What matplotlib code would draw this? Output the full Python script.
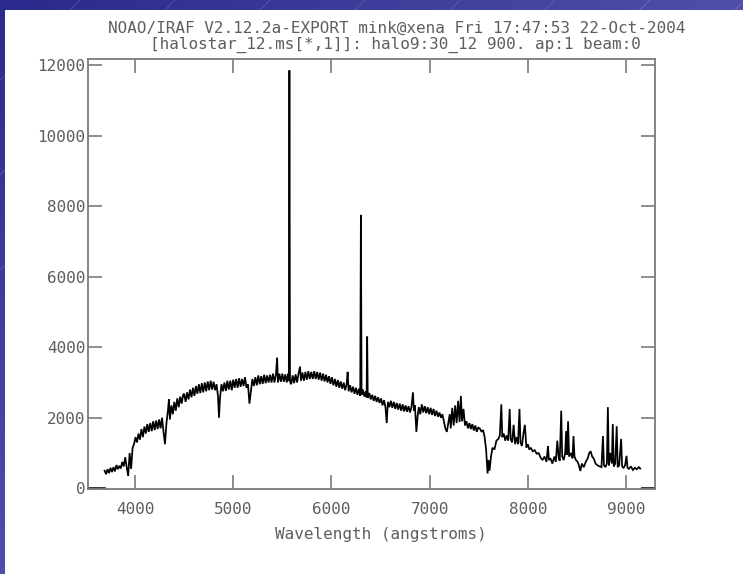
import numpy as np
import matplotlib
matplotlib.use("Agg")
import matplotlib.pyplot as plt
from matplotlib.patches import Rectangle

# ---------------- data ----------------
title_line1 = "NOAO/IRAF V2.12.2a-EXPORT mink@xena Fri 17:47:53 22-Oct-2004"
title_line2 = "[halostar_12.ms[*,1]]: halo9:30_12 900. ap:1 beam:0"
x_label = "Wavelength (angstroms)"
x_ticks = [4000, 5000, 6000, 7000, 8000, 9000]
y_ticks = [0, 2000, 4000, 6000, 8000, 10000, 12000]

# zero-valued ends of the spectrum (outside the extracted range)
edge_blue_wl = [3530, 3680]
edge_blue_fx = [0, 0]
edge_red_wl = [9160, 9290]
edge_red_fx = [0, 0]

wl_1 = [3690, 3705, 3720, 3735, 3750, 3765, 3780, 3795, 3810, 3825, 3840, 3855, 3870,
        3885, 3900, 3915, 3930, 3945, 3960, 3975, 3990, 4005, 4020, 4035, 4050, 4065,
        4080, 4095, 4110, 4125, 4140, 4155, 4170, 4185, 4200, 4215, 4230, 4245, 4260,
        4275, 4290, 4305, 4320, 4335, 4345, 4355, 4370, 4385, 4400, 4415, 4430, 4445,
        4460, 4475, 4490]
fx_1 = [500, 400, 540, 430, 580, 460, 600, 480, 660, 540, 640, 560, 750,
        620, 880, 600, 350, 1000, 550, 1150, 1250, 1450, 1300, 1550, 1380, 1680,
        1450, 1750, 1550, 1820, 1600, 1850, 1620, 1900, 1650, 1920, 1680, 1950, 1700,
        2000, 1600, 1250, 1850, 2200, 2520, 1950, 2350, 2100, 2450, 2200, 2550, 2300,
        2600, 2400, 2650]

wl_2 = [4500, 4515, 4530, 4545, 4560, 4575, 4590, 4605, 4620, 4635, 4650, 4665, 4680,
        4695, 4710, 4725, 4740, 4755, 4770, 4785, 4800, 4815, 4830, 4845, 4855, 4865,
        4880, 4895, 4910, 4925, 4940, 4955, 4970, 4985, 5000, 5015, 5030, 5045, 5060,
        5075, 5090, 5105, 5120, 5135, 5150, 5165, 5180, 5195, 5210, 5225, 5240, 5255,
        5270, 5285, 5300, 5315, 5330, 5345, 5360, 5375, 5390, 5405, 5420, 5435, 5447,
        5455, 5470, 5485]
fx_2 = [2680, 2450, 2720, 2520, 2800, 2580, 2850, 2620, 2900, 2680, 2950, 2700, 2980,
        2720, 3000, 2750, 3030, 2780, 3050, 2800, 3020, 2780, 2950, 2600, 2000, 2550,
        2950, 2750, 3000, 2760, 3050, 2800, 3050, 2780, 3080, 2850, 3100, 2850, 3120,
        2880, 3100, 2900, 3150, 2850, 2950, 2400, 2750, 3100, 2900, 3150, 2920, 3200,
        2950, 3180, 2960, 3220, 2980, 3200, 3000, 3220, 3000, 3250, 3000, 3230, 3700,
        3000, 3250, 3020]

wl_3 = [5500, 5515, 5530, 5545, 5558, 5566, 5572, 5578, 5590, 5605, 5620, 5635, 5650,
        5665, 5680, 5690, 5705, 5720, 5735, 5750, 5765, 5780, 5795, 5810, 5825, 5840,
        5855, 5870, 5885, 5900, 5915, 5930, 5945, 5960, 5975, 5990, 6005, 6020, 6035,
        6050, 6065, 6080, 6095, 6110, 6125, 6140, 6155, 6165, 6175, 6190, 6205, 6220,
        6235, 6250, 6265, 6280, 6293, 6300, 6307, 6320, 6335, 6350, 6358, 6364, 6370,
        6385, 6400, 6415, 6430, 6445, 6460, 6475, 6490]
fx_3 = [3250, 3020, 3230, 3000, 3250, 3050, 11850, 3020, 2950, 3200, 2980, 3230, 3000,
        3250, 3450, 3050, 3280, 3050, 3300, 3080, 3320, 3100, 3300, 3100, 3320, 3100,
        3300, 3080, 3280, 3050, 3250, 3030, 3220, 3000, 3180, 2960, 3150, 2920, 3100,
        2880, 3070, 2850, 3030, 2820, 3000, 2780, 2950, 3300, 2750, 2920, 2720, 2880,
        2680, 2850, 2650, 2820, 2620, 7750, 2650, 2800, 2600, 2750, 2580, 4300, 2560,
        2700, 2520, 2650, 2480, 2620, 2450, 2580, 2420]

wl_4 = [6505, 6520, 6535, 6550, 6563, 6575, 6590, 6605, 6620, 6635, 6650, 6665, 6680,
        6695, 6710, 6725, 6740, 6755, 6770, 6785, 6800, 6815, 6830, 6840, 6850, 6865,
        6878, 6890, 6905, 6920, 6935, 6950, 6965, 6980, 6995, 7010, 7025, 7040, 7055,
        7070, 7085, 7100, 7115, 7130, 7145, 7160, 7175, 7190, 7205, 7215, 7230, 7245,
        7260, 7275, 7290, 7305, 7318, 7330, 7345, 7360, 7375, 7390, 7405, 7420, 7435,
        7450, 7465, 7480, 7495]
fx_4 = [2550, 2350, 2500, 2300, 1850, 2450, 2300, 2480, 2280, 2450, 2250, 2420, 2230,
        2400, 2200, 2380, 2180, 2350, 2170, 2330, 2150, 2300, 2720, 2200, 2350, 1600,
        2050, 2300, 2100, 2380, 2150, 2330, 2130, 2300, 2100, 2280, 2080, 2250, 2050,
        2200, 2030, 2150, 2000, 2100, 1900, 1700, 1600, 1850, 2100, 1700, 2280, 1780,
        2350, 1850, 2480, 1880, 2620, 1900, 2250, 1780, 1900, 1700, 1850, 1680, 1820,
        1640, 1780, 1600, 1720]

wl_5 = [7510, 7530, 7545, 7560, 7575, 7590, 7600, 7610, 7625, 7640, 7660, 7680, 7700,
        7715, 7730, 7740, 7755, 7770, 7785, 7800, 7815, 7825, 7840, 7855, 7870, 7885,
        7900, 7915, 7925, 7940, 7955, 7970, 7985, 8000, 8015, 8030, 8050, 8070, 8090,
        8110, 8130, 8150, 8170, 8190, 8205, 8215, 8230, 8250, 8270, 8285, 8300, 8315,
        8325, 8340, 8350, 8365, 8380, 8390, 8400, 8410, 8420, 8440, 8455, 8465, 8475, 8490]
fx_5 = [1700, 1600, 1650, 1450, 1100, 420, 800, 500, 900, 1150, 1100, 1350, 1400,
        1500, 2380, 1450, 1550, 1350, 1500, 1350, 2250, 1400, 1300, 1800, 1250, 1450,
        1250, 2250, 1300, 1200, 1550, 1800, 1150, 1250, 1100, 1150, 1050, 1080, 980,
        1000, 870, 800, 900, 750, 1200, 800, 850, 700, 900, 750, 1350, 850,
        780, 2200, 900, 800, 1000, 1620, 950, 1900, 900, 1000, 850, 1480, 900, 800]

wl_6 = [8505, 8520, 8535, 8550, 8570, 8590, 8610, 8625, 8640, 8655, 8670, 8690, 8710,
        8730, 8750, 8765, 8775, 8790, 8805, 8815, 8825, 8840, 8855, 8865, 8875, 8890,
        8905, 8915, 8930, 8950, 8960, 8975, 8990, 9005, 9015, 9030, 9050, 9070, 9090,
        9110, 9130, 9145]
fx_6 = [760, 650, 490, 700, 600, 750, 850, 1000, 1050, 900, 850, 700, 650,
        620, 600, 1480, 650, 600, 700, 2300, 650, 1000, 700, 1820, 620, 700,
        1760, 600, 650, 1400, 620, 580, 650, 920, 580, 550, 620, 520, 580,
        540, 600, 560]

wavelength = np.array(wl_1 + wl_2 + wl_3 + wl_4 + wl_5 + wl_6, dtype=float)
flux = np.array(fx_1 + fx_2 + fx_3 + fx_4 + fx_5 + fx_6, dtype=float)

# ---------------- figure ----------------
W, H = 743, 574
fig = plt.figure(figsize=(W / 100, H / 100), dpi=100)
fig.patch.set_facecolor("white")

# slide background: blue gradient frame with white content area
bg = fig.add_axes([0, 0, 1, 1], zorder=-5)
bg.set_xlim(0, W)
bg.set_ylim(H, 0)
bg.axis("off")
gx, gy = np.meshgrid(np.linspace(0, 1, 200), np.linspace(0, 1, 160))
t = np.clip((gx + gy) / 1.4, 0, 1)
c0 = np.array([0x2a, 0x2a, 0x8c]) / 255.0
c1 = np.array([0x5e, 0x5e, 0xb4]) / 255.0
grad = c0[None, None, :] * (1 - t[..., None]) + c1[None, None, :] * t[..., None]
bg.imshow(grad, extent=[0, W, H, 0], aspect="auto", interpolation="bilinear")
for k in range(-600, 900, 95):
    bg.plot([k, k + 300], [300, 0], color="white", lw=0.4, alpha=0.25)
bg.add_patch(Rectangle((5, 10), W - 5, H - 10, facecolor="white", edgecolor="none", zorder=3))

gray = "#7a7a7a"
tgray = "#5e5e5e"
font = "DejaVu Sans Mono"
fs = 11.5

left, right, top, bottom = 88, 655, 59, 489
ax = fig.add_axes([left / W, 1 - bottom / H, (right - left) / W, (bottom - top) / H])
ax.set_facecolor("white")
ax.plot(wavelength, flux, color="black", lw=1.25, solid_joinstyle="miter")
ax.plot(edge_blue_wl, edge_blue_fx, color="#333333", lw=2.0)
ax.plot(edge_red_wl, edge_red_fx, color="#333333", lw=2.0)
ax.set_xlim(3521, 9295)
ax.set_ylim(-20, 12170)
ax.set_xticks(x_ticks)
ax.set_yticks(y_ticks)
ax.set_xticklabels([str(v) for v in x_ticks], family=font, fontsize=fs, color=tgray)
ax.set_yticklabels([str(v) for v in y_ticks], family=font, fontsize=fs, color=tgray)
ax.tick_params(axis="both", direction="in", length=10, width=1.2, color=gray,
               top=True, right=True)
ax.tick_params(axis="x", pad=9)
ax.tick_params(axis="y", pad=2)
for s in ax.spines.values():
    s.set_color(gray)
    s.set_linewidth(1.3)

fig.text(397 / W, 1 - 28 / H, title_line1, family=font, fontsize=fs, color=tgray,
         ha="center", va="center")
fig.text(395 / W, 1 - 45 / H, title_line2, family=font, fontsize=fs, color=tgray,
         ha="center", va="center")
fig.text(381 / W, 1 - 534 / H, x_label, family=font, fontsize=fs, color=tgray,
         ha="center", va="center")

fig.savefig("out.png", dpi=100, facecolor=fig.get_facecolor())
